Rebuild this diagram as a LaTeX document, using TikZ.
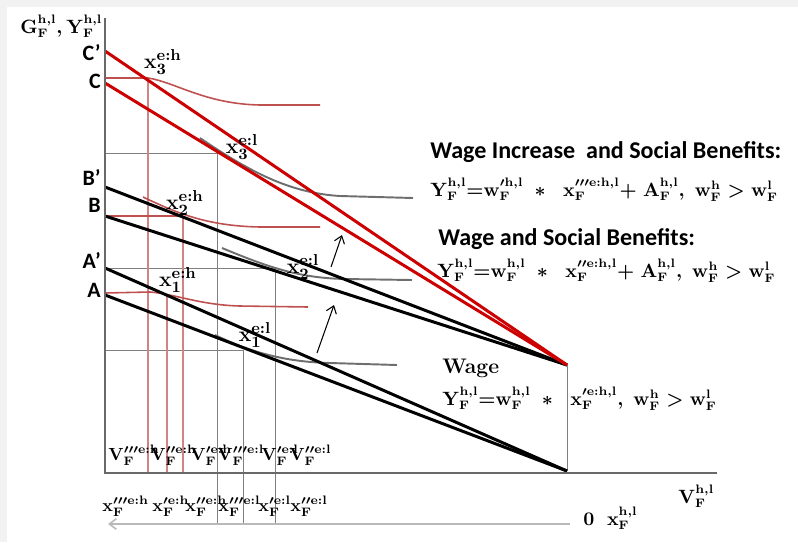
\documentclass[tikz,border=0pt]{standalone}
\usepackage{fontspec}
\usetikzlibrary{arrows.meta}
\newfontfamily\calfont{Carlito}
\DeclareMathSizes{11}{11}{7}{5}
\DeclareMathSizes{10}{10}{7}{5}
\definecolor{budgetred}{RGB}{204,0,0}
\definecolor{softred}{RGB}{190,80,80}
\definecolor{curvegray}{RGB}{110,110,110}
\definecolor{axisgray}{RGB}{105,105,105}
\begin{document}
\begin{tikzpicture}[x=0.02cm, y=-0.02cm, >={Straight Barb[length=4pt,width=6pt]},
    axisline/.style={draw=axisgray, line width=1.1pt},
    gridline/.style={draw=gray, line width=0.55pt},
    budget/.style={line width=1.7pt},
    hcurve/.style={draw=softred, line width=0.9pt},
    lcurve/.style={draw=curvegray, line width=1.1pt},
    hdrop/.style={draw=softred!70, line width=0.6pt},
    head/.style={font=\calfont\bfseries\fontsize{13.7}{16}\selectfont, inner sep=0pt},
    eq/.style={font=\fontsize{11}{14}\selectfont\boldmath, inner sep=0pt},
    ptlab/.style={font=\fontsize{13}{15}\selectfont\boldmath, inner sep=0pt},
    axlab/.style={font=\fontsize{10}{12}\selectfont\boldmath, inner sep=0pt, anchor=base west},
    letter/.style={font=\calfont\bfseries\fontsize{12.5}{14}\selectfont, inner sep=0pt, anchor=base east}]
  \useasboundingbox (0,0) rectangle (798,542);
  \fill[gray!10] (0,0) rectangle (798,7);
  \fill[gray!10] (0,0) rectangle (7,542);

  \coordinate (O) at (105,473);
  \coordinate (Cp) at (105,51);
  \coordinate (C) at (105,83);
  \coordinate (Bp) at (105,187);
  \coordinate (B) at (105,216);
  \coordinate (Ap) at (105,268);
  \coordinate (A) at (105,295);
  \coordinate (P) at (567,365);
  \coordinate (Q) at (567,471);

  \foreach \ty/\tx in {153/217, 268/275, 350/243}
    \draw[gridline] (105,\ty) -- (\tx,\ty) -- (\tx,524);
  \foreach \tx/\ty in {148/78, 167/295, 183/216}
    \draw[hdrop] (\tx,\ty) -- (\tx,474);
  \draw[gridline] (P) -- (Q);

  \draw[hcurve] (105,78) -- (148,78) .. controls (175,82) and (205,104) .. (260,105) -- (320,105);
  \draw[hcurve] (143,197) .. controls (175,212) and (205,226) .. (260,227) -- (320,227);
  \draw[hcurve] (105,216) -- (183,216);
  \draw[hcurve] (105,293) -- (150,292) .. controls (175,294) and (200,305) .. (240,306) -- (308,307);
  \draw[lcurve] (200,138) .. controls (250,172) and (290,193) .. (340,196) -- (413,198);
  \draw[lcurve] (222,248) .. controls (270,268) and (300,278) .. (345,279) -- (412,280);
  \draw[lcurve] (215,335) .. controls (250,352) and (285,362) .. (330,363) -- (397,365);

  \foreach \s in {Bp, B}
    \draw[budget, black] (\s) -- (P);
  \foreach \s in {Ap, A}
    \draw[budget, black] (\s) -- (Q);
  \foreach \s in {Cp, C}
    \draw[budget, budgetred] (\s) -- (P);

  \draw[axisline] (105,18) -- (O) -- (717,473);

  \coordinate (lowtail) at (317,353);
  \coordinate (lowtip) at (334,305);
  \coordinate (uptail) at (331,267);
  \coordinate (uptip) at (342,235);
  \draw[->, line width=0.6pt] (lowtail) -- (lowtip);
  \draw[->, line width=0.6pt] (uptail) -- (uptip);
  \coordinate (xend) at (108,524);
  \coordinate (xstart) at (570,524);
  \draw[->, gray!55, line width=0.9pt] (xstart) -- (xend);

  \node[eq, anchor=base west] (yaxis) at (20,33) {$\mathbf{G^{h,l}_F, Y^{h,l}_F}$};
  \foreach \n/\t/\y in {Cp/C’/60, C/C/88, Bp/B’/185, B/B/212, Ap/A’/268, A/A/297}
    \node[letter] (lab\n) at (101,\y) {\t};

  \node[ptlab] (x3h) at (163,62) {$\mathbf{x^{e{:}h}_3}$};
  \node[ptlab] (x3l) at (242,147) {$\mathbf{x^{e{:}l}_3}$};
  \node[ptlab] (x2h) at (185,203) {$\mathbf{x^{e{:}h}_2}$};
  \node[ptlab] (x2l) at (303,267) {$\mathbf{x^{e{:}l}_2}$};
  \node[ptlab] (x1h) at (178,280) {$\mathbf{x^{e{:}h}_1}$};
  \node[ptlab] (x1l) at (255,335) {$\mathbf{x^{e{:}l}_1}$};

  \foreach \px/\pr/\ty [count=\i] in {108/'''/h, 150/''/h, 190/'/h, 217/'''/l, 261/'/l, 289/''/l}
    \node[axlab] (v\i) at (\px,460) {$\mathbf{V\pr^{e{:}\ty}_F}$};
  \foreach \px/\pr/\ty [count=\i] in {102/'''/h, 152/'/h, 185/''/h, 218/'''/l, 258/'/l, 290/''/l}
    \node[axlab] (x\i) at (\px,511) {$\mathbf{x\pr^{e{:}\ty}_F}$};

  \node[head, anchor=base west] (inchead) at (430,158) {Wage Increase~ and Social Benefits:};
  \node[eq, anchor=base west] (inceq) at (430,196)
    {$\mathbf{Y^{h,l}_F{=}w'^{h,l}_F\ \ast\ \ x'''^{e{:}h,l}_F{+}\ A^{h,l}_F,\ w^h_F > w^l_F}$};
  \node[head, anchor=base west] (sochead) at (438,245) {Wage and Social Benefits:};
  \node[eq, anchor=base west] (soceq) at (437,277)
    {$\mathbf{Y^{h,l}_F{=}w^{h,l}_F\ \ast\ \ x''^{e{:}h,l}_F{+}\ A^{h,l}_F,\ w^h_F > w^l_F}$};
  \node[font=\bfseries\fontsize{12}{14}\selectfont, inner sep=0pt, anchor=base west] (wagehead) at (442,373) {Wage};
  \node[eq, anchor=base west] (wageeq) at (442,405)
    {$\mathbf{Y^{h,l}_F{=}w^{h,l}_F\ \ast\ \ x'^{e{:}h,l}_F,\ w^h_F > w^l_F}$};
  \node[eq, anchor=base west] (vlab) at (678,503) {$\mathbf{V^{h,l}_F}$};
  \node[eq, anchor=base west] (zlab) at (583,525) {$\mathbf{0\ \ x^{h,l}_F}$};
\end{tikzpicture}
\end{document}
